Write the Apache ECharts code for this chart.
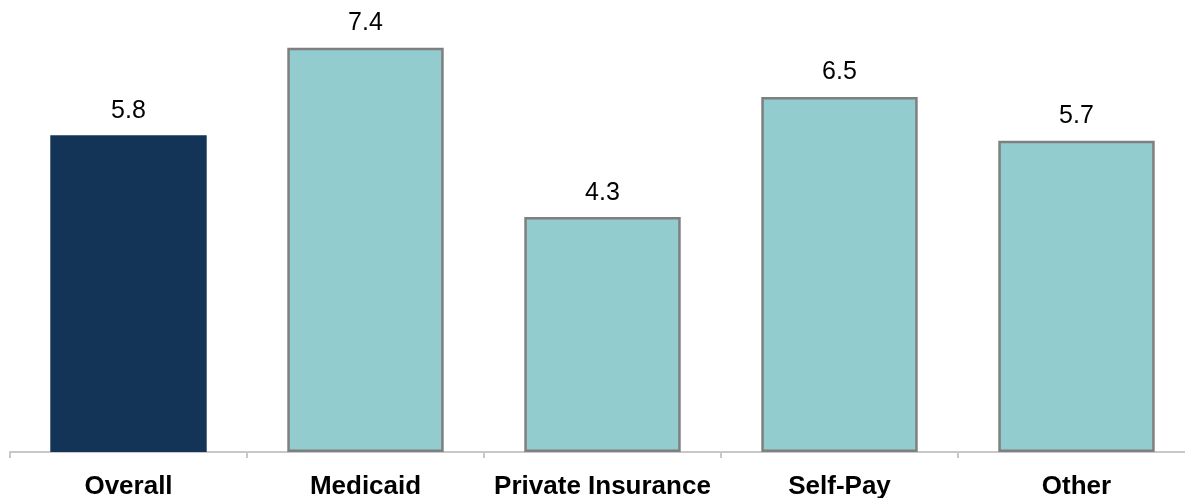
<!DOCTYPE html>
<html>
<head>
<meta charset="utf-8">
<script src="https://cdn.jsdelivr.net/npm/echarts@6/dist/echarts.min.js"></script>
<style>
html,body{margin:0;padding:0;background:#fff;}
#chart{width:1185px;height:498px;}
</style>
</head>
<body>
<div id="chart"></div>
<script>
const categories = ["Overall", "Medicaid", "Private Insurance", "Self-Pay", "Other"];
const values = [5.8, 7.4, 4.3, 6.5, 5.7];

const chart = echarts.init(document.getElementById('chart'));
const data = values.map((v, i) => ({
  value: v,
  itemStyle: i === 0
    ? { color: '#133357', borderWidth: 0 }
    : { color: '#93CCCE', borderColor: '#7F7F7F', borderWidth: 2.5 }
}));
chart.setOption({
  animation: false,
  grid: { left: 10, width: 1185, top: 15, bottom: 46, containLabel: false, outerBoundsMode: 'none' },
  xAxis: {
    type: 'category',
    data: categories,
    axisLine: { lineStyle: { color: '#C8C8C8', width: 2 } },
    axisTick: { show: true, length: 6, lineStyle: { color: '#C8C8C8', width: 2 } },
    axisLabel: {
      color: '#000', fontFamily: 'Liberation Sans, Arial', fontWeight: 'bold',
      fontSize: 26, margin: 22, interval: 0
    }
  },
  yAxis: {
    type: 'value', min: 0, max: 8, show: false,
    splitLine: { show: false }
  },
  series: [{
    type: 'bar',
    data: data,
    barCategoryGap: '34%',
    label: {
      show: true, position: 'top', distance: 12,
      color: '#000', fontFamily: 'Liberation Sans, Arial', fontSize: 25,
      formatter: p => p.value.toFixed(1)
    }
  }]
});
</script>
</body>
</html>
